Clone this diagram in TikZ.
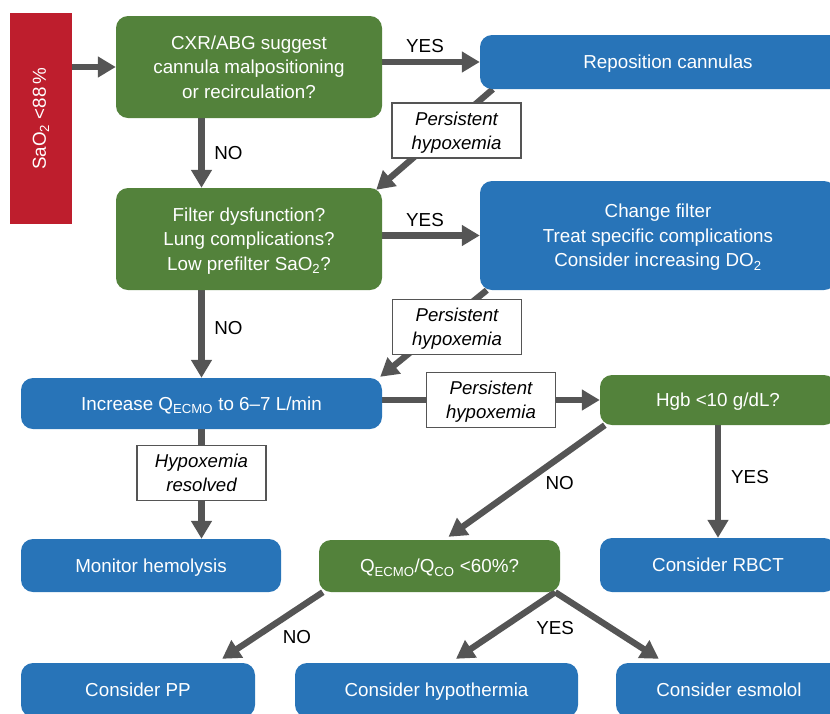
\documentclass[tikz,border=0pt]{standalone}
\usepackage{fontspec}
\setmainfont{Liberation Sans}
\usepackage{graphicx}
\usepackage{xcolor}
\usepackage{tikz}
\usetikzlibrary{arrows.meta,backgrounds}

\definecolor{askgreen}{RGB}{83,130,59}
\definecolor{actblue}{RGB}{40,116,184}
\definecolor{alertred}{RGB}{190,30,45}
\definecolor{flowgray}{RGB}{85,85,85}

\begin{document}
\begin{tikzpicture}[
  x=1pt,y=-1pt,
  every node/.style={font=\fontsize{18.8}{24.5}\selectfont},
  ask/.style={fill=askgreen,text=white,rounded corners=12pt,align=center,inner sep=0pt,text depth=0pt},
  act/.style={fill=actblue,text=white,rounded corners=12pt,align=center,inner sep=0pt,text depth=0pt},
  note/.style={draw,line width=1.4pt,fill=white,align=center,font=\fontsize{18.6}{24}\selectfont\itshape,minimum width=129pt,minimum height=55pt,inner sep=0pt,text depth=0pt},
  lbl/.style={text=black},
  arrow/.style={-{Triangle[length=18pt,width=20pt]},line width=6.3pt,draw=flowgray}
]
  \useasboundingbox (0,0) rectangle (830,713);
  \clip (0,0) rectangle (830,713);

  \node[fill=alertred,text=white,minimum width=62pt,minimum height=211pt,inner sep=0pt] (sat) at (41,118.5) {\rotatebox{90}{SaO\textsubscript{2} <88\,\%}};
  \node[ask,minimum width=266pt,minimum height=102pt] (q1) at (249,67) {CXR/ABG suggest\\cannula malpositioning\\or recirculation?};
  \node[act,minimum width=376pt,minimum height=54pt] (repos) at (668,62) {Reposition cannulas};
  \node[ask,minimum width=266pt,minimum height=102pt] (q2) at (249,239) {Filter dysfunction?\\Lung complications?\\Low prefilter SaO\textsubscript{2}?};
  \node[act,minimum width=356pt,minimum height=109pt] (filt) at (658,235.5) {Change filter\\Treat specific complications\\Consider increasing DO\textsubscript{2}};
  \node[act,minimum width=361pt,minimum height=51pt] (incr) at (201.5,403.5) {Increase Q\textsubscript{ECMO} to 6--7 L/min};
  \node[ask,minimum width=236pt,minimum height=50pt] (hgb) at (718,400) {Hgb <10 g/dL?};
  \node[act,minimum width=260pt,minimum height=53pt] (monitor) at (151,565.5) {Monitor hemolysis};
  \node[ask,minimum width=241pt,minimum height=52pt] (ratio) at (439.5,566) {Q\textsubscript{ECMO}/Q\textsubscript{CO} <60\%?};
  \node[act,minimum width=236pt,minimum height=54pt] (rbct) at (718,565) {Consider RBCT};
  \node[act,minimum width=234pt,minimum height=54pt] (pp) at (138,690) {Consider PP};
  \node[act,minimum width=283pt,minimum height=54pt] (hypo) at (436.5,690) {Consider hypothermia};
  \node[act,minimum width=226pt,minimum height=54pt] (esmo) at (729,690) {Consider esmolol};

  \begin{scope}[on background layer]
  \draw[arrow] (sat.east |- q1.west) -- (q1.west);
  \draw[arrow] (q1.east |- repos.west) -- node[lbl,yshift=16pt,xshift=-6pt] {YES} (repos.west);
  \draw[arrow] (q1.south -| incr.north) -- node[lbl,xshift=27pt] {NO} (q2.north -| incr.north);
  \draw[arrow] ([xshift=13pt]repos.south west) -- node[note,pos=0.41,xshift=11.5pt] (pers1) {Persistent\\hypoxemia} ([xshift=-6pt,yshift=-2pt]q2.north east);
  \draw[arrow] (q2.east |- filt.west) -- node[lbl,yshift=15.5pt,xshift=-6pt] {YES} (filt.west);
  \draw[arrow] (q2.south -| incr.north) -- node[lbl,yshift=6pt,xshift=27pt] {NO} (incr.north);
  \draw[arrow] ([xshift=7pt]filt.south west) -- node[note,pos=0.426,xshift=15.6pt] (pers2) {Persistent\\hypoxemia} ([xshift=-2pt,yshift=1pt]incr.north east);
  \draw[arrow] (incr.east |- hgb.west) -- node[note] (pers3) {Persistent\\hypoxemia} (hgb.west);
  \draw[arrow] (incr.south) -- node[note,pos=0.4] (resolved) {Hypoxemia\\resolved} (incr.south |- monitor.north);
  \draw[arrow] ([xshift=5pt]hgb.south west) -- node[lbl,xshift=33pt,yshift=-2pt] {NO} ([xshift=9pt,yshift=3pt]ratio.north);
  \draw[arrow] (hgb.south) -- node[lbl,xshift=32pt,yshift=4.5pt] {YES} (rbct.north);
  \draw[arrow] ([xshift=4pt]ratio.south west) -- node[lbl,xshift=24.5pt,yshift=-11.5pt] {NO} ([xshift=-33pt,yshift=4pt]pp.north east);
  \draw[arrow] ([xshift=-5pt]ratio.south east) -- node[lbl,xshift=49.5pt,yshift=-2.5pt] {YES} ([xshift=19.5pt,yshift=4pt]hypo.north);
  \draw[arrow] ([xshift=-5pt]ratio.south east) -- ([xshift=43pt,yshift=4pt]esmo.north west);
  \end{scope}
\end{tikzpicture}
\end{document}
